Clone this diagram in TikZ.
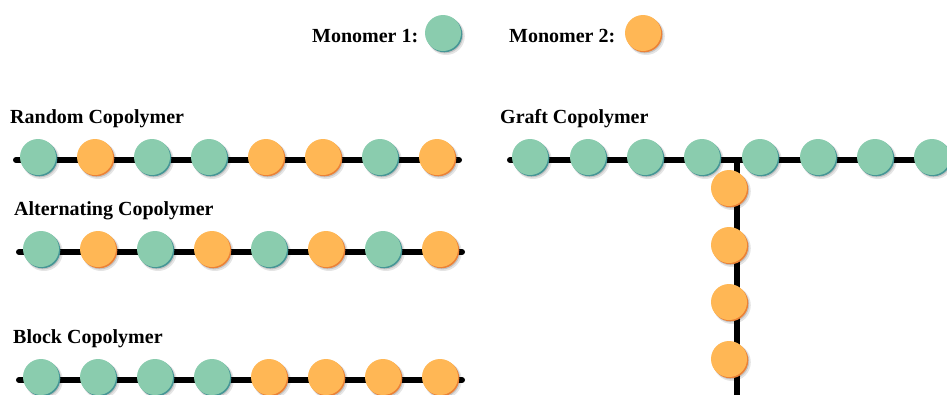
\documentclass[tikz,border=0pt]{standalone}
\usepackage{fontspec}
\setmainfont{Liberation Serif}
\definecolor{mgreen}{RGB}{138,204,174}
\definecolor{mgreendark}{RGB}{70,150,150}
\definecolor{morange}{RGB}{255,183,85}
\definecolor{morangedark}{RGB}{235,130,55}
\tikzset{
  monomer/.style={circle, inner sep=0pt, minimum size=36pt, draw=none},
  chain/.style={line width=6pt, line cap=round, black},
  lbl/.style={anchor=base west, inner sep=0pt, font=\fontsize{20}{24}\selectfont\bfseries}
}
\newcommand\mono[3]{%
  \fill[black, opacity=.10] ([shift={(3,3.2)}]#2) circle[radius=18.8];
  \fill[black, opacity=.14] ([shift={(2.2,2.4)}]#2) circle[radius=18];
  \fill[#3dark] ([shift={(1.3,1.3)}]#2) circle[radius=18];
  \node[monomer, fill=#3] (#1) at (#2) {};}
\begin{document}
\begin{tikzpicture}[x=1pt,y=-1pt]
\useasboundingbox (0,0) rectangle (947,394);
% legend
\node[lbl] (l1) at (312,42) {Monomer 1:};
\mono{lg}{443,33}{mgreen}
\node[lbl] (l2) at (509,42) {Monomer 2:};
\mono{lo}{643,33}{morange}
% random
\node[lbl] (tr) at (10,123) {Random Copolymer};
\coordinate (rs) at (16,160); \coordinate (re) at (459,160);
\draw[chain] (rs) -- (re);
\mono{r1}{38,157}{mgreen}
\mono{r2}{95,157}{morange}
\mono{r3}{152,157}{mgreen}
\mono{r4}{209,157}{mgreen}
\mono{r5}{266,157}{morange}
\mono{r6}{323,157}{morange}
\mono{r7}{380,157}{mgreen}
\mono{r8}{437,157}{morange}
% alternating
\node[lbl] (ta) at (14,215) {Alternating Copolymer};
\coordinate (as) at (19,252); \coordinate (ae) at (462,252);
\draw[chain] (as) -- (ae);
\mono{a1}{41,249}{mgreen}
\mono{a2}{98,249}{morange}
\mono{a3}{155,249}{mgreen}
\mono{a4}{212,249}{morange}
\mono{a5}{269,249}{mgreen}
\mono{a6}{326,249}{morange}
\mono{a7}{383,249}{mgreen}
\mono{a8}{440,249}{morange}
% block
\node[lbl] (tb) at (13,343) {Block Copolymer};
\coordinate (bs) at (19,380); \coordinate (be) at (462,380);
\draw[chain] (bs) -- (be);
\mono{b1}{41,377}{mgreen}
\mono{b2}{98,377}{mgreen}
\mono{b3}{155,377}{mgreen}
\mono{b4}{212,377}{mgreen}
\mono{b5}{269,377}{morange}
\mono{b6}{326,377}{morange}
\mono{b7}{383,377}{morange}
\mono{b8}{440,377}{morange}
% graft
\node[lbl] (tg) at (500,123) {Graft Copolymer};
\coordinate (gs) at (510,160); \coordinate (ge) at (960,160);
\coordinate (gj) at (737,160); \coordinate (gb) at (737,400);
\draw[chain] (gs) -- (ge);
\draw[line width=6pt, black] (gj) -- (gb);
\mono{g1}{530,157}{mgreen}
\mono{g2}{588,157}{mgreen}
\mono{g3}{645,157}{mgreen}
\mono{g4}{702,157}{mgreen}
\mono{g5}{760,157}{mgreen}
\mono{g6}{818,157}{mgreen}
\mono{g7}{875,157}{mgreen}
\mono{g8}{932,157}{mgreen}
\mono{s1}{729,188}{morange}
\mono{s2}{729,245}{morange}
\mono{s3}{729,302}{morange}
\mono{s4}{729,359}{morange}
\end{tikzpicture}
\end{document}
